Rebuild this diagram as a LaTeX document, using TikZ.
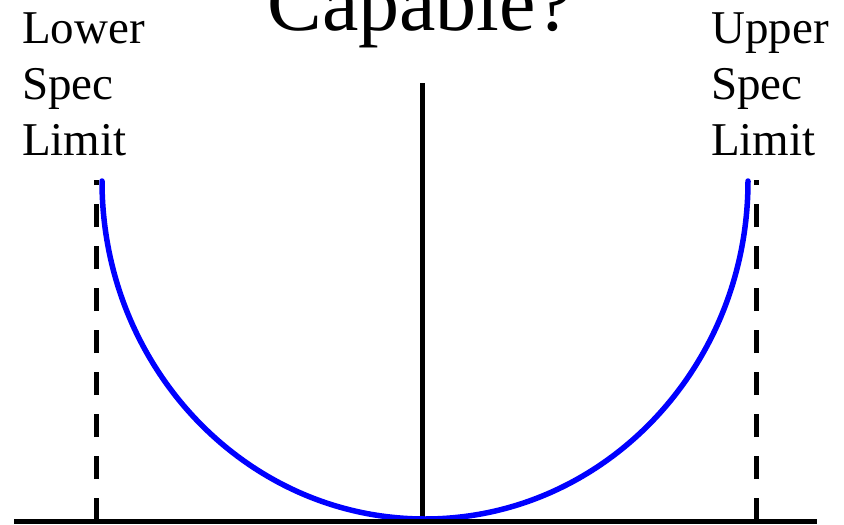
\documentclass[tikz,border=0pt]{standalone}
\usepackage{fontspec}
\setmainfont{Liberation Serif}
\begin{document}
\begin{tikzpicture}[x=1pt,y=-1pt,
  lbl/.style={inner sep=0pt,align=left,font=\fontsize{47}{56}\selectfont},
  ttl/.style={inner sep=0pt,font=\fontsize{82}{90}\selectfont},
  axisline/.style={line width=5pt,black},
  speclimit/.style={line width=5pt,black,dash pattern=on 23pt off 19pt},
  dist/.style={line width=5.5pt,blue,line cap=round}]
\useasboundingbox (0,0) rectangle (844,525);
\clip (0,0) rectangle (844,525);
\fill[white] (0,0) rectangle (844,525);
% labels
\node[ttl,anchor=base] (title) at (420,30) {Capable?};
\node[lbl,anchor=north west] (lsl) at (22,13) {Lower\\Spec\\Limit};
\node[lbl,anchor=north west] (usl) at (711,13) {Upper\\Spec\\Limit};
% coordinates
\coordinate (bl) at (14,521);
\coordinate (br) at (817,521);
\coordinate (ctop) at (422,83);
\coordinate (cbot) at (422,521);
\coordinate (ltop) at (96,180);
\coordinate (lbot) at (96,521);
\coordinate (rtop) at (756,180);
\coordinate (rbot) at (756,521);
\coordinate (cstart) at (102,181);
% lines
\draw[speclimit] (lbot) -- (ltop);
\draw[speclimit] (rbot) -- (rtop);
\draw[axisline] (cbot) -- (ctop);
\draw[dist] (cstart) arc[start angle=180,end angle=360,x radius=323pt,y radius=338pt];
\draw[axisline] (bl) -- (br);
\end{tikzpicture}
\end{document}
